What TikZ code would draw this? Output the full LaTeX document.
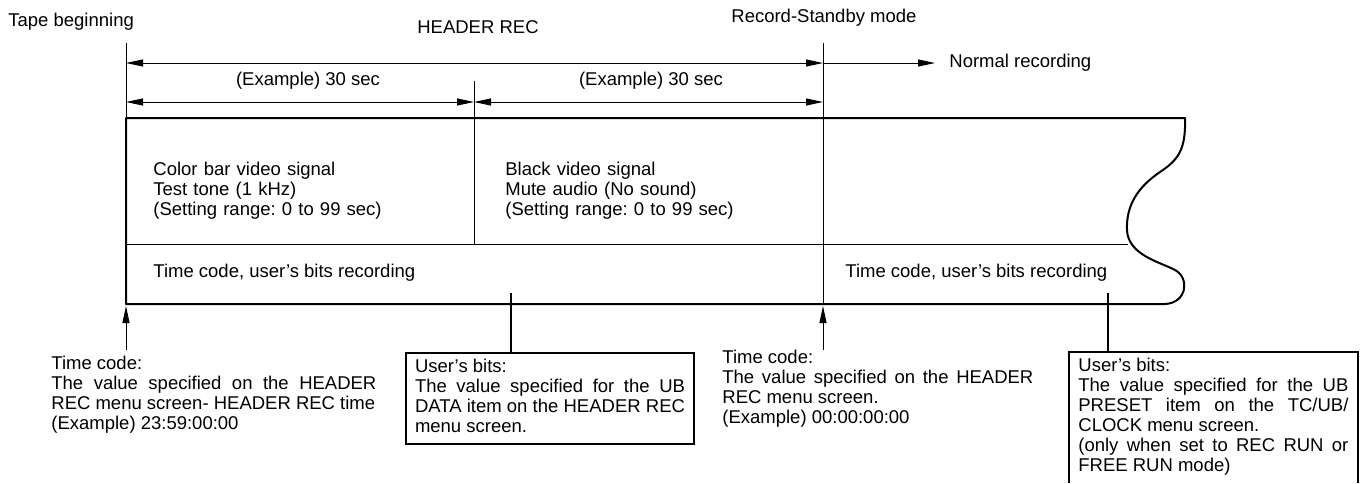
\documentclass[tikz,border=0pt]{standalone}
\usepackage{fontspec}
\setmainfont{Liberation Sans}
\frenchspacing
\usetikzlibrary{arrows.meta}

\begin{document}
\begin{tikzpicture}[
            x=0.5pt, y=-0.5pt,
            >={Triangle[length=8.5pt,width=3.5pt]},
            every node/.style={font=\fontsize{9.25pt}{10pt}\selectfont, inner sep=0pt},
            txt/.style={anchor=base west},
            para/.style={txt, text width=#1, align=justify},
            col/.style={txt, text width=160pt, align=left},
            guide/.style={line width=0.5pt},
            tape/.style={line width=1pt, line join=round},
            boxline/.style={line width=1pt},
            ubbox/.style={anchor=north west, text width=135pt, align=justify,
                inner xsep=4.5pt, inner ysep=3pt}
        ]
        \useasboundingbox (0,0) rectangle (1366,483);

        \node[txt]           (tapebeg) at (8,26)    {Tape beginning};
        \node[anchor=base]   (hdrrec)  at (478,33)  {HEADER REC};
        \node[txt]           (standby) at (731,22)  {Record-Standby mode};
        \node[txt]           (normal)  at (949,67)  {Normal recording};
        \node[anchor=base]   (ex1)     at (308,85)  {(Example) 30 sec};
        \node[anchor=base]   (ex2)     at (651,85)  {(Example) 30 sec};

        \coordinate (b0top) at (126,43);
        \coordinate (b0)    at (126,118);
        \coordinate (m0)    at (474,81);
        \coordinate (mbot)  at (474,244);
        \coordinate (s0)    at (823,43);
        \coordinate (sbot)  at (823,304);
        \coordinate (a1L)   at (126,63);
        \coordinate (a1R)   at (823,63);
        \coordinate (norm)  at (935,63);
        \coordinate (a2L)   at (126,102);
        \coordinate (a2M)   at (474,102);
        \coordinate (a2R)   at (823,102);
        \coordinate (pagebot) at (0,483);

        \draw[guide] (b0top) -- (b0);
        \draw[guide] (m0) -- (mbot);
        \draw[guide] (s0) -- (sbot);
        \draw[guide, <->] (a1L) -- (a1R);
        \draw[guide, ->]  (a1R) -- (norm);
        \draw[guide, <->] (a2L) -- (a2M);
        \draw[guide, <->] (a2M) -- (a2R);

        \draw[tape] (b0) -- (1185,118)
            .. controls (1186,150) and (1178,160) .. (1160,172)
            .. controls (1138,187) and (1126,205) .. (1127,230)
            .. controls (1128,255) and (1160,262) .. (1175,270)
            .. controls (1190,278) and (1187,303) .. (1165,304)
            -- (126,304) -- cycle;
        \draw[guide] (126,244) -- (1128,244);

        \node[col] (colorbar) at (153,175) {Color bar video signal\\Test tone (1 kHz)\\(Setting range: 0 to 99 sec)};
        \node[col] (black)    at (505,175) {Black video signal\\Mute audio (No sound)\\(Setting range: 0 to 99 sec)};
        \node[txt] (tcub1)    at (153,277) {Time code, user’s bits recording};
        \node[txt] (tcub2)    at (845,277) {Time code, user’s bits recording};

        \node[para=162.5pt] (tchdr) at (51,369) {Time code:\\The value specified on the HEADER\linebreak REC menu screen- HEADER REC time\\(Example) 23:59:00:00};
        \node[para=155.5pt] (tcstb) at (722,363) {Time code:\\The value specified on the HEADER\linebreak REC menu screen.\\(Example) 00:00:00:00};
        \node[ubbox, draw, line width=1pt] (ubdata) at (405,352) {User’s bits:\\The value specified for the UB\linebreak DATA item on the HEADER REC\linebreak menu screen.\strut};
        \node[ubbox] (ubpre) at (1069,352) {User’s bits:\\The value specified for the UB\linebreak PRESET item on the TC/UB/\linebreak CLOCK menu screen.\\(only when set to REC RUN or\linebreak FREE RUN mode)};
        \draw[boxline] (ubpre.north west |- pagebot) -- (ubpre.north west) -- (ubpre.north east) -- (ubpre.north east |- pagebot);

        \coordinate (tcL)  at (126,350);
        \coordinate (tcR)  at (823,350);
        \coordinate (ubL)  at (511,293);
        \coordinate (ubR)  at (1108,293);
        \draw[guide, ->] (tcL) -- (126,306);
        \draw[guide, ->] (tcR) -- (823,306);
        \draw[boxline] (ubL) -- (ubL |- ubdata.north);
        \draw[boxline] (ubR) -- (ubR |- ubpre.north);
\end{tikzpicture}
\end{document}
